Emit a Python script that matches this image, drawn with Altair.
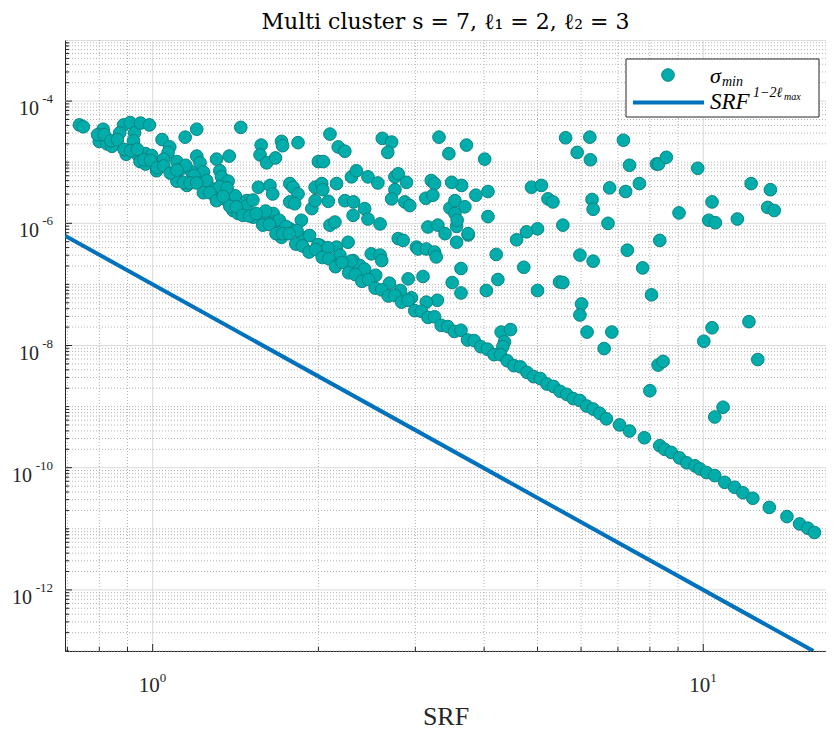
import altair as alt
import numpy as np
import pandas as pd

# ---------------- data (log10 values) ----------------
# scattered points, upper-left dense cloud
srf_log10_a = [-0.133, -0.126, -0.090, -0.097, -0.083, -0.074, -0.053, -0.041, -0.033, -0.022,
               -0.006, -0.048, -0.026, -0.013, -0.002, -0.023, -0.013, 0.007, 0.017, 0.031,
               0.028, 0.044, 0.059, 0.080, 0.080, 0.086, 0.092, 0.071, 0.044, 0.062,
               0.116, 0.139, 0.122, 0.125, 0.137, 0.110, 0.116, 0.131, 0.160, 0.171,
               0.197, 0.195, 0.207, 0.223, 0.234, 0.236, 0.264, 0.192, 0.213, 0.218,
               0.249, 0.255, 0.264, 0.249, 0.258, 0.289, 0.295, 0.301, 0.310, 0.322,
               0.337, 0.349, 0.295, 0.307, 0.309, 0.319, 0.334, 0.349, 0.361, 0.370,
               0.365, 0.364, 0.385, 0.391, 0.391, 0.409, 0.413, 0.417, 0.434, 0.427,
               0.440, 0.446, 0.461, 0.440, 0.434, 0.458, 0.467, 0.219, 0.222, 0.201,
               0.249, 0.270, 0.273, 0.234, 0.322, 0.331, 0.304, 0.334, 0.355, 0.364,
               0.376, 0.397, 0.413, 0.416, 0.446, 0.479, 0.146, 0.155, 0.164, 0.183, 0.158]
sigma_log10_a = [-4.39, -4.42, -4.46, -4.66, -4.70, -4.74, -4.39, -4.35, -4.52, -4.36,
                 -4.39, -4.87, -4.89, -4.86, -4.89, -4.99, -5.03, -5.14, -4.63, -4.75,
                 -4.84, -4.99, -4.59, -4.46, -4.90, -5.01, -5.16, -5.16, -5.31, -5.38,
                 -4.95, -4.90, -5.14, -5.24, -5.31, -5.44, -5.61, -5.60, -4.43, -5.63,
                 -4.72, -4.88, -5.01, -4.93, -4.66, -4.73, -4.68, -5.41, -5.38, -5.52,
                 -5.35, -5.41, -5.52, -5.65, -5.68, -5.76, -5.63, -4.99, -4.99, -4.54,
                 -4.75, -4.82, -5.41, -5.35, -5.45, -5.64, -5.35, -5.63, -5.24, -5.14,
                 -5.65, -5.87, -5.76, -5.93, -5.24, -5.34, -6.01, -4.61, -4.67, -4.84,
                 -5.24, -5.19, -5.33, -5.45, -5.60, -5.65, -5.71, -5.84, -5.98, -5.90,
                 -6.09, -5.95, -6.23, -6.23, -6.03, -5.98, -6.36, -6.39, -6.31, -6.61,
                 -6.69, -6.50, -6.52, -6.61, -6.25, -6.39, -5.79, -5.84, -5.82, -5.90, -5.65]

# scattered points, middle and right
srf_log10_b = [0.520, 0.538, 0.570, 0.603, 0.750, 0.794, 0.771, 0.795, 0.855, 0.866,
               0.915, 0.919, 0.933, 0.990, 1.087, 1.122, 1.117, 1.129, 1.016, 1.010,
               1.022, 1.062, 0.956, 0.884, 0.859, 0.830, 0.798, 0.800, 0.827, 0.745,
               0.688, 0.706, 0.718, 0.727, 0.699, 0.679, 0.661, 0.624, 0.674, 0.627,
               0.606, 0.699, 0.739, 0.745, 0.776, 0.800, 0.862, 0.890, 0.921, 0.906,
               0.779, 0.776, 0.789, 0.834, 0.820, 1.016, 1.001, 1.083, 0.609, 0.609,
               0.587, 0.573, 0.560, 0.544, 0.560, 0.517, 0.497, 0.464, 0.491, 0.500,
               0.518, 0.531, 0.552, 0.573, 0.552, 0.540, 0.549, 0.561, 0.543, 0.567,
               0.549, 0.553, 0.506, 0.512, 0.496, 0.509, 0.455, 0.482, 0.497, 0.512,
               0.515, 0.633, 0.650, 0.639, 0.636, 1.099, 0.918, 0.927, 0.903, 1.036,
               1.021]
sigma_log10_b = [-4.59, -4.86, -4.72, -4.95, -4.60, -4.59, -4.84, -4.96, -4.64, -5.05,
                 -5.03, -5.03, -4.92, -5.10, -5.35, -5.45, -5.74, -5.79, -5.65, -5.95,
                 -5.99, -5.93, -5.83, -5.35, -5.48, -5.42, -5.61, -5.77, -6.00, -6.03,
                 -5.41, -5.38, -5.60, -5.65, -6.09, -6.14, -6.27, -6.51, -6.72, -6.92,
                 -7.10, -7.10, -6.96, -6.97, -6.52, -6.62, -6.44, -6.73, -6.28, -7.17,
                 -7.32, -7.50, -7.78, -7.78, -8.05, -7.71, -7.93, -7.61, -5.89, -5.48,
                 -5.54, -6.19, -6.74, -6.97, -7.14, -7.26, -7.29, -6.91, -6.87, -6.06,
                 -6.03, -6.17, -6.05, -6.17, -6.31, -5.75, -5.63, -5.38, -5.33, -5.73,
                 -5.84, -5.95, -5.30, -5.35, -5.59, -5.54, -6.28, -6.42, -6.42, -6.47,
                 -6.55, -7.78, -7.74, -7.94, -8.02, -8.23, -8.32, -8.26, -8.74, -9.01,
                 -9.17]

# points just above the lower edge (thick band)
srf_log10_d = [0.050, 0.075, 0.098, 0.122, 0.150, 0.170, 0.182, 0.205, 0.230, 0.242,
               0.262, 0.285, 0.300, 0.318, 0.340, 0.360, 0.385, 0.405, 0.430, 0.450,
               0.470, 0.020, -0.060, -0.035, 0.135, 0.060]
sigma_log10_d = [-5.12, -5.22, -5.30, -5.40, -5.55, -5.72, -5.62, -5.80, -5.95, -6.05,
                 -6.12, -6.20, -6.35, -6.40, -6.52, -6.62, -6.75, -6.85, -6.98, -7.10,
                 -7.22, -4.95, -4.52, -4.65, -5.42, -5.05]

# points lying along the lower edge of the cloud
srf_log10_c = [-0.100, -0.088, -0.076, -0.064, -0.052, -0.040, -0.028, -0.016, -0.004, 0.008,
               0.020, 0.032, 0.044, 0.056, 0.068, 0.080, 0.092, 0.104, 0.116, 0.128,
               0.140, 0.152, 0.164, 0.176, 0.188, 0.200, 0.212, 0.224, 0.236, 0.248,
               0.260, 0.272, 0.284, 0.296, 0.308, 0.320, 0.332, 0.344, 0.356, 0.368,
               0.380, 0.392, 0.404, 0.416, 0.428, 0.440, 0.452, 0.464, 0.476, 0.488,
               0.500, 0.512, 0.524, 0.536, 0.548, 0.560, 0.572, 0.584, 0.596, 0.608,
               0.620, 0.632, 0.644, 0.656, 0.668, 0.680, 0.692, 0.704, 0.716, 0.728,
               0.740, 0.752, 0.764, 0.776, 0.788, 0.800, 0.812,
               0.824, 0.848, 0.866, 0.893, 0.921, 0.930, 0.942, 0.957, 0.970, 0.985,
               0.994, 1.006, 1.021, 1.039, 1.057, 1.072, 1.090, 1.120, 1.152, 1.175,
               1.190, 1.202, 1.236]
sigma_log10_c = [-4.55, -4.55, -4.65, -4.63, -4.79, -4.81, -4.79, -4.96, -4.97, -5.09,
                 -5.06, -5.18, -5.13, -5.33, -5.34, -5.34, -5.50, -5.50, -5.63, -5.56,
                 -5.72, -5.73, -5.87, -5.88, -5.84, -6.03, -6.02, -6.17, -6.17, -6.17,
                 -6.34, -6.37, -6.47, -6.43, -6.56, -6.58, -6.71, -6.64, -6.81, -6.84,
                 -6.95, -6.92, -7.06, -7.09, -7.19, -7.18, -7.29, -7.26, -7.43, -7.44,
                 -7.54, -7.53, -7.67, -7.69, -7.77, -7.75, -7.91, -7.92, -8.02, -8.06,
                 -8.15, -8.15, -8.25, -8.33, -8.35, -8.44, -8.51, -8.54, -8.63, -8.67,
                 -8.75, -8.80, -8.87, -8.90, -8.99, -9.04, -9.11,
                 -9.20, -9.30, -9.40, -9.51, -9.64, -9.70, -9.75, -9.84, -9.92, -9.97,
                 -10.02, -10.08, -10.13, -10.24, -10.32, -10.41, -10.50, -10.65, -10.80, -10.92,
                 -10.99, -11.06, -11.22]

# reference curve SRF^(1-2*l_max) (scaled), end points
line_srf = [0.693, 15.85]
line_val = [6.26e-7, 1.0e-13]

# axis ticks and tick labels
x_major = [1, 10]
x_major_exp = ["0", "1"]
x_minor = [0.7, 0.8, 0.9, 2, 3, 4, 5, 6, 7, 8, 9]
y_major = [1e-12, 1e-10, 1e-8, 1e-6, 1e-4]
y_major_exp = ["-12", "-10", "-8", "-6", "-4"]
y_exps = list(range(-13, -3))
y_mant = [1, 2, 3, 4, 5, 6, 7, 8, 9]
y_minor = [m * 10.0 ** e for e in y_exps for m in y_mant
           if not (m == 1 and e in (-12, -10, -8, -6, -4))]

# ---------------- chart ----------------
W, H = 761, 611
SERIF = "Liberation Serif"
AXC = "#262626"
TEAL = "#00ADAA"
TEAL_EDGE = "#0B8483"
BLUE = "#0072BD"

pts = pd.DataFrame({
    "srf": 10 ** np.array(srf_log10_a + srf_log10_b + srf_log10_d + srf_log10_c),
    "sigma": 10 ** np.array(sigma_log10_a + sigma_log10_b + sigma_log10_d + sigma_log10_c),
})
line_df = pd.DataFrame({"srf": line_srf, "sigma": line_val})

xscale = alt.Scale(type="log", domain=[0.693, 16.71], nice=False)
yscale = alt.Scale(type="log", domain=[1e-13, 1e-3], nice=False)

XAXIS = alt.Axis(values=x_major, labels=False, ticks=False, grid=False,
                 domainColor=AXC, domainWidth=1, title="SRF", titleFont=SERIF,
                 titleFontSize=26, titleFontWeight="normal", titleColor=AXC, titlePadding=52)
YAXIS = alt.Axis(values=y_major, labels=False, ticks=False, grid=False,
                 domainColor=AXC, domainWidth=1, title=None)


def X(field):
    return alt.X(field, type="quantitative", scale=xscale, axis=XAXIS)


def Y(field):
    return alt.Y(field, type="quantitative", scale=yscale, axis=YAXIS)


def vrules(vals, **kw):
    return alt.Chart(pd.DataFrame({"v": vals})).mark_rule(**kw).encode(x=X("v"))


def hrules(vals, **kw):
    return alt.Chart(pd.DataFrame({"v": vals})).mark_rule(**kw).encode(y=Y("v"))


minor_kw = dict(color="#b4b4b4", strokeWidth=1, strokeDash=[1, 2])
major_kw = dict(color="#dadada", strokeWidth=1)

grid = [vrules(x_minor, **minor_kw), hrules(y_minor, **minor_kw),
        vrules(x_major, **major_kw), hrules(y_major, **major_kw)]


def xticks(vals, length):
    return alt.Chart(pd.DataFrame({"v": vals})).mark_rule(color=AXC, strokeWidth=1).encode(
        x=X("v"), y=alt.value(H), y2=alt.value(H - length))


def yticks(vals, length):
    return alt.Chart(pd.DataFrame({"v": vals})).mark_rule(color=AXC, strokeWidth=1).encode(
        y=Y("v"), x=alt.value(0), x2=alt.value(length))


ticks = [xticks(x_minor, 4), xticks(x_major, 7), yticks(y_minor, 4), yticks(y_major, 7)]

# tick labels: "10" with a raised exponent
ylab_df = pd.DataFrame({"v": y_major, "t": y_major_exp})
ylab_df["two"] = ylab_df["t"].str.len() > 2
ylab_base_2 = alt.Chart(ylab_df[ylab_df["two"]]).mark_text(
    text="10", align="right", baseline="middle", font=SERIF, fontSize=20, color=AXC, dy=8
).encode(y=Y("v"), x=alt.value(-33))
ylab_base_1 = alt.Chart(ylab_df[~ylab_df["two"]]).mark_text(
    text="10", align="right", baseline="middle", font=SERIF, fontSize=20, color=AXC, dy=8
).encode(y=Y("v"), x=alt.value(-26))
ylab_exp = alt.Chart(ylab_df).mark_text(
    align="right", baseline="middle", font=SERIF, fontSize=13, color=AXC, dy=-2
).encode(y=Y("v"), x=alt.value(-12), text=alt.Text("t:N"))

xlab_df = pd.DataFrame({"v": x_major, "t": x_major_exp})
xlab_base = alt.Chart(xlab_df).mark_text(
    text="10", align="right", baseline="middle", font=SERIF, fontSize=21, color=AXC, dx=7
).encode(x=X("v"), y=alt.value(H + 35))
xlab_exp = alt.Chart(xlab_df).mark_text(
    align="left", baseline="middle", font=SERIF, fontSize=13, color=AXC, dx=7
).encode(x=X("v"), y=alt.value(H + 27), text=alt.Text("t:N"))

labels = [ylab_base_2, ylab_base_1, ylab_exp, xlab_base, xlab_exp]

curve = alt.Chart(line_df).mark_line(color=BLUE, strokeWidth=4, clip=True).encode(
    x=X("srf"), y=Y("sigma"))

points = alt.Chart(pts).mark_circle(
    size=160, color=TEAL, fill=TEAL, stroke=TEAL_EDGE, strokeWidth=1, opacity=1, clip=True
).encode(x=X("srf"), y=Y("sigma"))

# ---------------- legend (drawn by hand) ----------------
one = pd.DataFrame({"a": [0]})
leg_box = alt.Chart(one).mark_rect(fill="white", stroke=AXC, strokeWidth=1).encode(
    x=alt.value(561), x2=alt.value(754), y=alt.value(19), y2=alt.value(77))
leg_dot = alt.Chart(one).mark_circle(size=160, fill=TEAL, color=TEAL, stroke=TEAL_EDGE,
                                     strokeWidth=1, opacity=1).encode(
    x=alt.value(603), y=alt.value(35))
leg_line = alt.Chart(one).mark_rule(color=BLUE, strokeWidth=4).encode(
    x=alt.value(568), x2=alt.value(639), y=alt.value(62.5))


def leg_text(txt, x, y, size):
    return alt.Chart(one).mark_text(text=txt, align="left", baseline="middle", font=SERIF,
                                    fontStyle="italic", fontSize=size, color="black").encode(
        x=alt.value(x), y=alt.value(y))


legend = [leg_box, leg_dot, leg_line,
          leg_text("σ", 645, 36, 22), leg_text("min", 657, 42, 14),
          leg_text("SRF", 645, 62, 23), leg_text("1−2ℓ", 688, 53, 14),
          leg_text("max", 719, 57, 10)]

chart = alt.layer(*grid, *ticks, *labels, curve, points, *legend).properties(
    width=W, height=H,
    autosize=alt.AutoSizeParams(type="none"),
    padding={"left": 57, "top": 32, "right": 0, "bottom": 78},
    title=alt.Title("Multi cluster s = 7, ℓ₁ = 2, ℓ₂ = 3", font="DejaVu Serif", fontSize=22,
                    fontWeight="normal", color="black", offset=6, anchor="middle"),
).configure_view(stroke=None).configure(background="white")

chart.save("out.html", embed_options={"renderer": "svg", "actions": False})
